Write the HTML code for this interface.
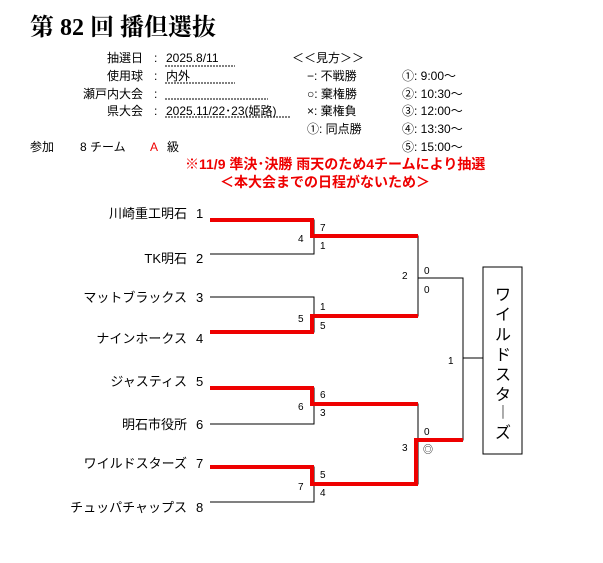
<!DOCTYPE html>
<html><head><meta charset="utf-8"><style>
html,body{margin:0;padding:0;background:#fff;}
svg{display:block;}
text{font-family:"Liberation Sans","Noto Sans CJK JP",sans-serif;fill:#000;}
.t{font-size:12px;}
.s{font-size:10px;}
.n{font-size:13px;}
</style></head><body>
<svg width="603" height="563" viewBox="0 0 603 563" xmlns="http://www.w3.org/2000/svg">
<text x="30" y="35" style="font-family:'Liberation Serif','Noto Serif CJK SC',serif;font-size:24px;font-weight:bold;">第 82 回 播但選抜</text>
<g class="t">
<text x="143" y="62" text-anchor="end" class="t">抽選日</text>
<text x="143" y="80" text-anchor="end" class="t">使用球</text>
<text x="143" y="98" text-anchor="end" class="t">瀬戸内大会</text>
<text x="143" y="115" text-anchor="end" class="t">県大会</text>
<text x="154" y="62" class="t">:</text><text x="154" y="80" class="t">:</text><text x="154" y="98" class="t">:</text><text x="154" y="115" class="t">:</text>
<text x="166" y="62" class="t">2025.8/11</text>
<text x="166" y="80" class="t">内外</text>
<text x="166" y="115" class="t">2025.11/22･23(姫路)</text>
</g>
<g stroke="#000" stroke-width="1" stroke-dasharray="2,1">
<line x1="165" y1="66" x2="235" y2="66"/><line x1="165" y1="83" x2="235" y2="83"/>
<line x1="165" y1="99" x2="268" y2="99"/><line x1="165" y1="117" x2="290" y2="117"/>
</g>
<text x="292" y="62" class="t">＜＜見方＞＞</text>
<text x="307" y="80" class="t">−: 不戦勝</text>
<text x="307" y="98" class="t">○: 棄権勝</text>
<text x="307" y="115" class="t">×: 棄権負</text>
<text x="307" y="133" class="t">①: 同点勝</text>
<text x="402" y="80" class="t">①:  9:00〜</text>
<text x="402" y="98" class="t">②: 10:30〜</text>
<text x="402" y="115" class="t">③: 12:00〜</text>
<text x="402" y="133" class="t">④: 13:30〜</text>
<text x="402" y="151" class="t">⑤: 15:00〜</text>
<text x="30" y="151" class="t">参加</text>
<text x="80" y="151" class="t">8 チーム</text>
<text x="150" y="151" class="t" style="fill:#e00">A</text>
<text x="167" y="151" class="t">級</text>
<text x="185" y="169" style="font-size:14px;font-weight:bold;fill:#e00">※11/9 準決･決勝  雨天のため4チームにより抽選</text>
<text x="220" y="187" style="font-size:14px;font-weight:bold;fill:#e00">＜本大会までの日程がないため＞</text>

<g class="n" text-anchor="end">
<text x="187" y="218" class="n">川崎重工明石</text><text x="187" y="263" class="n">TK明石</text>
<text x="187" y="302" class="n">マットブラックス</text><text x="187" y="343" class="n">ナインホークス</text>
<text x="187" y="386" class="n">ジャスティス</text><text x="187" y="429" class="n">明石市役所</text>
<text x="187" y="468" class="n">ワイルドスターズ</text><text x="187" y="512" class="n">チュッパチャップス</text>
</g>
<g class="n">
<text x="196" y="218">1</text><text x="196" y="263">2</text><text x="196" y="302">3</text><text x="196" y="343">4</text>
<text x="196" y="386">5</text><text x="196" y="429">6</text><text x="196" y="468">7</text><text x="196" y="512">8</text>
</g>
<g stroke="#000" stroke-width="1" fill="none">
<path d="M210 220H314V254H210"/><path d="M210 297H314V332H210"/>
<path d="M210 388H314V424H210"/><path d="M210 467H314V502H210"/>
<path d="M314 236H418V316H314"/><path d="M314 404H418V484H314"/>
<path d="M418 278H463V440H418"/><path d="M463 358H483"/>
<rect x="483" y="267" width="39" height="187"/>
</g>
<g stroke="#e00" stroke-width="4" fill="none">
<path d="M210 220H312V236H418"/>
<path d="M210 332H312V316H418"/>
<path d="M210 388H312V404H418"/>
<path d="M210 467H312V484H416V440H463"/>
</g>
<g class="s">
<text x="298" y="242">4</text><text x="298" y="322">5</text><text x="298" y="410">6</text><text x="298" y="490">7</text>
<text x="320" y="231">7</text><text x="320" y="249">1</text>
<text x="320" y="310">1</text><text x="320" y="329">5</text>
<text x="320" y="398">6</text><text x="320" y="416">3</text>
<text x="320" y="478">5</text><text x="320" y="496">4</text>
<text x="402" y="279">2</text><text x="402" y="451">3</text>
<text x="424" y="274">0</text><text x="424" y="293">0</text>
<text x="424" y="435">0</text><text x="423" y="453">◎</text>
<text x="448" y="364">1</text>
</g>
<g style="font-size:16px" text-anchor="middle">
<text x="503" y="300">ワ</text><text x="503" y="320">イ</text><text x="503" y="340">ル</text><text x="503" y="360">ド</text>
<text x="503" y="380">ス</text><text x="503" y="400">タ</text><text x="503" y="418">︱</text><text x="503" y="438">ズ</text>
</g>
</svg>
</body></html>
